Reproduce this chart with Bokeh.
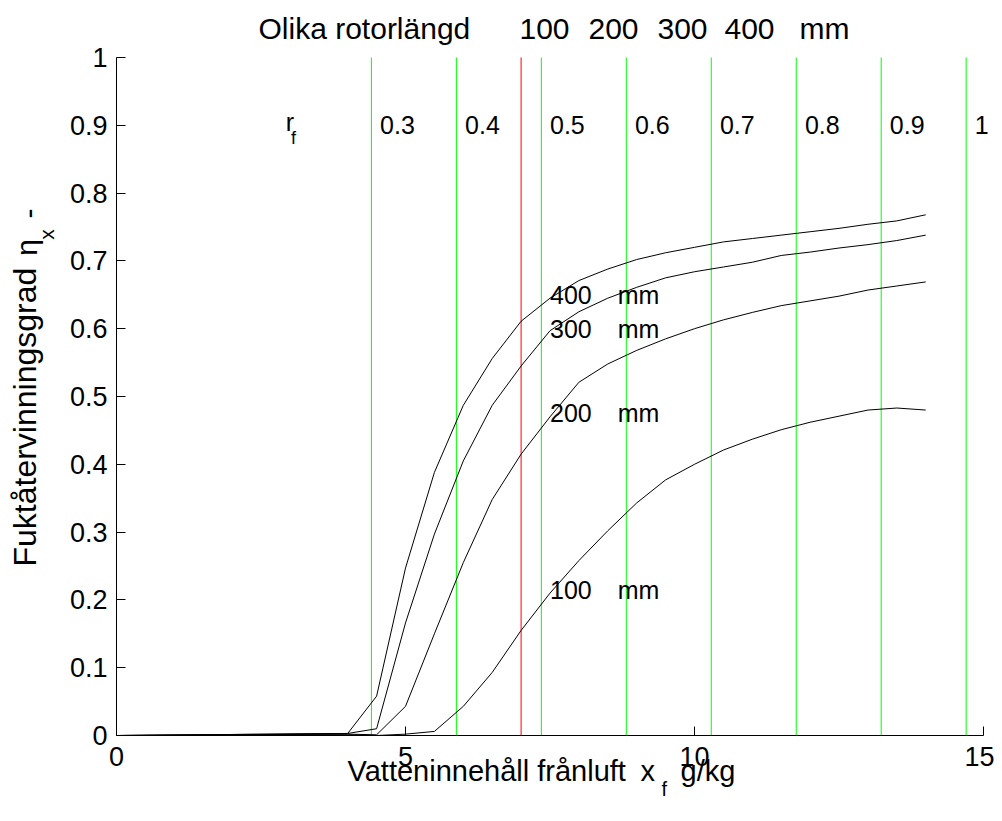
import math
from bokeh.plotting import figure
from bokeh.models import Label, FixedTicker
from bokeh.embed import file_html
from bokeh.resources import INLINE

# ---------------- data ----------------
x_water = [0, 4, 4.5, 5, 5.5, 6, 6.5, 7, 7.5, 8, 8.5, 9, 9.5, 10,
           10.5, 11, 11.5, 12, 12.5, 13, 13.5, 14]
eta_100 = [0, 0.001, 0.0, 0.002, 0.006, 0.043, 0.093, 0.155, 0.210, 0.258, 0.302,
           0.343, 0.377, 0.400, 0.421, 0.437, 0.451, 0.462, 0.471, 0.480, 0.483, 0.480]
eta_200 = [0, 0.002, 0.001, 0.043, 0.150, 0.255, 0.348, 0.415, 0.470, 0.521, 0.548,
           0.568, 0.585, 0.600, 0.613, 0.624, 0.634, 0.641, 0.648, 0.657, 0.663, 0.669]
eta_300 = [0, 0.003, 0.010, 0.166, 0.297, 0.405, 0.487, 0.545, 0.597, 0.625, 0.645,
           0.661, 0.675, 0.684, 0.691, 0.698, 0.708, 0.713, 0.719, 0.724, 0.730, 0.738]
eta_400 = [0, 0.003, 0.058, 0.247, 0.388, 0.487, 0.556, 0.611, 0.645, 0.671, 0.688,
           0.702, 0.712, 0.720, 0.728, 0.733, 0.738, 0.743, 0.748, 0.754, 0.759, 0.768]
curves = [eta_100, eta_200, eta_300, eta_400]

rotor_lengths = ["100", "200", "300", "400"]
rotor_label_y = [0.215, 0.475, 0.600, 0.650]

rf_levels = ["0.3", "0.4", "0.5", "0.6", "0.7", "0.8", "0.9", "1"]
rf_x = [4.41, 5.88, 7.35, 8.82, 10.29, 11.76, 13.23, 14.70]
red_x = [7.0]

x_ticks = [0, 5, 10, 15]
y_ticks = [0, 0.1, 0.2, 0.3, 0.4, 0.5, 0.6, 0.7, 0.8, 0.9, 1]

title_parts = ["Olika rotorlängd", "100", "200", "300", "400", "mm"]

FONT = "Liberation Sans"

# ---------------- layout geometry (canvas pixels) ----------------
W, H = 994, 813
AX_L, AX_R, AX_T, AX_B = 116, 983, 57, 735
XMIN, XMAX, YMIN, YMAX = 0, 15, 0, 1
sx = (XMAX - XMIN) / (AX_R - AX_L)
sy = (YMAX - YMIN) / (AX_B - AX_T)
x_range = (XMIN - AX_L * sx, XMAX + (W - AX_R) * sx)
y_range = (YMIN - (H - AX_B) * sy, YMAX + AX_T * sy)


def px_x(px):
    return XMIN + (px - AX_L) * sx


def px_y(py):
    return YMIN + (AX_B - py) * sy


p = figure(width=W, height=H, x_range=x_range, y_range=y_range,
           output_backend="svg", toolbar_location=None, min_border=0,
           min_border_left=0, min_border_right=0, min_border_top=0,
           min_border_bottom=0)
p.outline_line_color = None
p.grid.visible = False
p.background_fill_color = "white"
p.border_fill_color = "white"

for ax, ticks, bounds in ((p.xaxis[0], x_ticks, (XMIN, XMAX)),
                          (p.yaxis[0], y_ticks, (YMIN, YMAX))):
    ax.fixed_location = 0
    ax.bounds = bounds
    ax.ticker = FixedTicker(ticks=ticks)
    ax.major_tick_in = 9
    ax.major_tick_out = 0
    ax.minor_tick_in = 0
    ax.minor_tick_out = 0
    ax.axis_line_color = "black"
    ax.major_tick_line_color = "black"
    ax.major_label_text_font = FONT
    ax.major_label_text_font_size = "27px"
    ax.major_label_text_color = "black"
p.yaxis.major_label_overrides = {0: "0", 1: "1"}
p.xaxis.major_label_standoff = 11
p.yaxis.major_label_standoff = 9

# vertical reference lines
p.segment(x0=rf_x, y0=[YMIN] * len(rf_x), x1=rf_x, y1=[YMAX] * len(rf_x),
          line_color="#00FF00", line_width=1)
p.segment(x0=red_x, y0=[YMIN], x1=red_x, y1=[YMAX], line_color="#FF0000", line_width=1)

# curves
for eta in curves:
    p.line(x_water, eta, line_color="black", line_width=1)


def lab(x, y, text, size, align="left", baseline="middle", angle=0.0):
    p.add_layout(Label(x=x, y=y, text=text, text_font=FONT,
                       text_font_size=size, text_align=align,
                       text_baseline=baseline, angle=angle,
                       text_color="black"))


# curve labels
for name, ly in zip(rotor_lengths, rotor_label_y):
    lab(7.5, ly, name, "25px")
    lab(8.67, ly, "mm", "25px")

# rf labels
for name, xx in zip(rf_levels, rf_x):
    lab(xx + 0.15, 0.9, name, "25px")
lab(2.93, 0.905, "r", "25px")
lab(3.02, 0.882, "f", "18px")

# title (pieces placed as in the original)
for part, left_px in zip(title_parts, [258, 519, 588, 657, 724, 799]):
    lab(px_x(left_px), px_y(28), part, "30px")

# x label
lab(px_x(347), px_y(770), "Vatteninnehåll frånluft", "29px")
lab(px_x(640), px_y(770), "x", "29px")
lab(px_x(661), px_y(788), "f", "20px")
lab(px_x(680), px_y(770), "g/kg", "29px")

# y label (rotated)
lab(px_x(24), px_y(566), "Fuktåtervinningsgrad", "32px", angle=math.pi / 2)
lab(px_x(26), px_y(247), "η", "30px", align="center", angle=math.pi / 2)
lab(px_x(46), px_y(234), "x", "21px", align="center", angle=math.pi / 2)
lab(px_x(28), px_y(213), "-", "30px", align="center", angle=math.pi / 2)

open("out.html", "w").write(file_html(p, INLINE))
